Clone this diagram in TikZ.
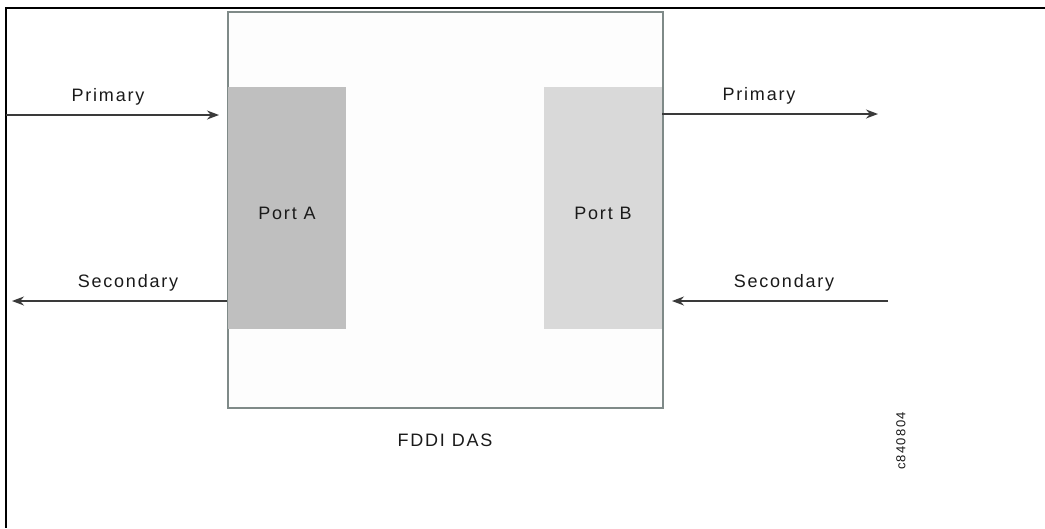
\documentclass[tikz,border=0pt]{standalone}
\usepackage{fontspec}
\setmainfont{Liberation Sans}[LetterSpace=10]
\usetikzlibrary{arrows.meta}
\definecolor{boxline}{HTML}{7F8A88}
\definecolor{boxfill}{HTML}{FDFDFD}
\definecolor{portAfill}{HTML}{BFBFBF}
\definecolor{portBfill}{HTML}{D9D9D9}
\definecolor{wire}{HTML}{3A3A3A}
\definecolor{txt}{HTML}{1A1A1A}
\tikzset{
  lbl/.style={font=\fontsize{18}{20}\selectfont, text=txt, inner sep=0pt},
  portbox/.style={draw=none, minimum width=118pt, minimum height=242pt, inner sep=0pt, font=\fontsize{18}{20}\selectfont, text=txt},
  wirearrow/.style={draw=wire, line width=1.4pt, -{Stealth[length=12pt,width=9pt]}, shorten >=8pt}
}
\begin{document}
\begin{tikzpicture}[x=1pt,y=-1pt]
\useasboundingbox (0,0) rectangle (1045,528);
\fill[white] (0,0) rectangle (1045,528);
% frame
\draw[line width=2pt] (1045,8) -- (6,8) -- (6,528);
% DAS box
\node[draw=boxline, fill=boxfill, line width=2pt, minimum width=435pt, minimum height=396pt, inner sep=0pt, anchor=north west] (das) at (227,11) {};
% ports
\node[portbox, fill=portAfill, anchor=north west] (pa) at (228,87) {};
\node[portbox, fill=portBfill, anchor=north east] (pb) at (662,87) {};
\node[lbl] (lpa) at (287,213) {Port A};
\node[lbl] (lpb) at (603,213) {Port B};
% free ends
\coordinate (pin) at (6,115);
\coordinate (pout) at (886,114);
\coordinate (sout) at (4,301);
\coordinate (sin) at (888,301);
% connectors
\draw[wirearrow] (pin) -- (pin -| das.west);
\draw[wirearrow] (pb.east |- pout) -- (pout);
\draw[wirearrow] (das.west |- sout) -- (sout);
\draw[wirearrow] (sin) -- (sin -| das.east);
% labels
\node[lbl] (lp1) at (108,97) {Primary};
\node[lbl] (lp2) at (759,96) {Primary};
\node[lbl] (ls1) at (128,283) {Secondary};
\node[lbl] (ls2) at (784,283) {Secondary};
\node[lbl] (ldas) at (445,440) {FDDI DAS};
\node[lbl, font=\fontsize{13}{15}\selectfont, rotate=90] (fig) at (901,441) {c840804};
\end{tikzpicture}
\end{document}
